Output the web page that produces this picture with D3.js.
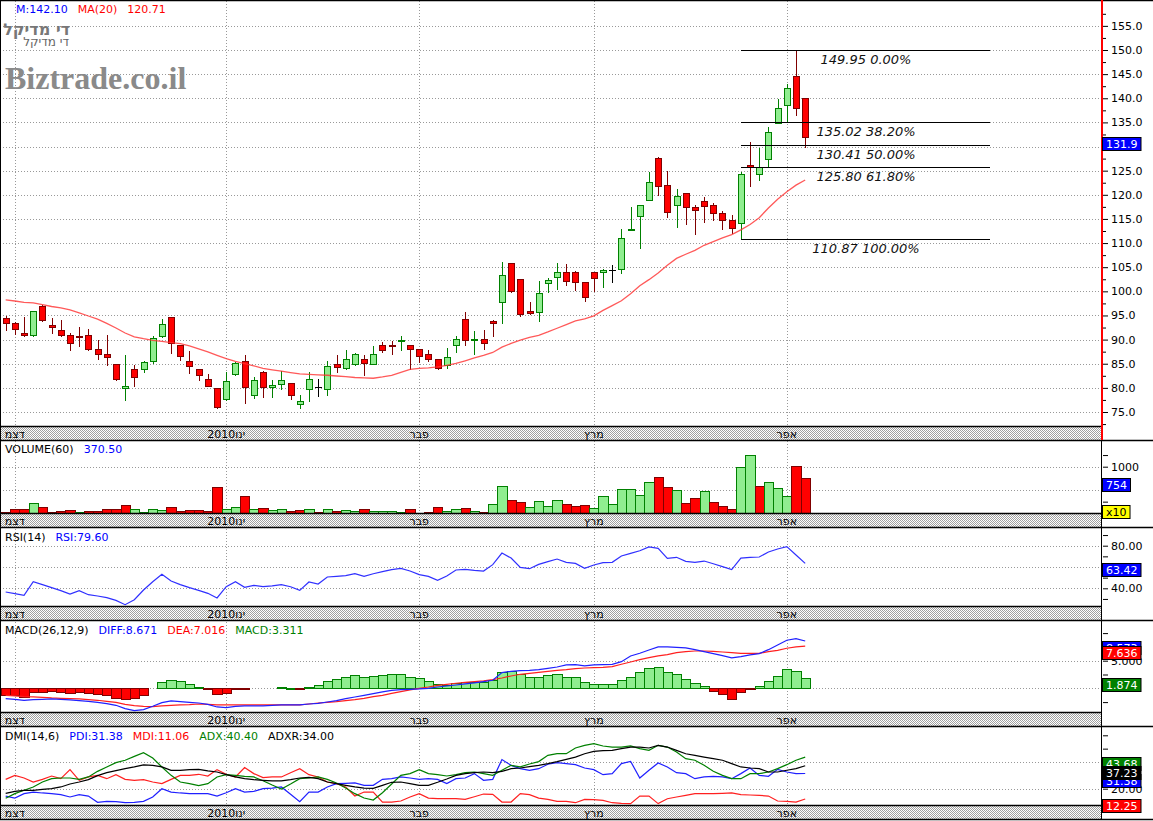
<!DOCTYPE html>
<html><head><meta charset="utf-8">
<script src="https://cdn.jsdelivr.net/npm/d3@7"></script>
<style>body{margin:0;background:#fff;} svg{display:block;} text{font-family:"DejaVu Sans",sans-serif;}</style>
</head><body><svg id="c" width="1153" height="821"></svg>
<script>
// ---------------- DATA ----------------
const openP = [94.41,93.37,91.30,90.89,96.97,93.03,91.99,90.96,90.68,90.89,
 87.99,87.02,84.95,79.98,83.84,83.98,85.57,90.68,94.62,88.89,
 85.57,83.84,81.84,79.91,77.77,82.81,85.57,78.46,83.29,80.11,
 80.74,80.94,76.59,79.84,80.19,79.70,84.88,84.05,84.88,85.92,
 85.02,88.82,88.85,89.84,88.82,87.99,86.95,85.92,84.81,88.82,
 94.21,90.04,90.06,93.86,97.73,105.81,102.49,95.93,95.66,101.66,
 102.91,103.94,103.94,101.87,103.94,103.94,104.50,104.70,112.95,115.54,
 118.85,127.62,121.96,117.82,120.30,117.40,118.65,117.95,116.16,114.71,
 114.23,126.10,124.24,127.35,134.80,138.53,144.61,139.98];
const highP = [94.89,93.6,94.62,96.0,97.17,94.41,94.06,91.44,92.68,92.13,
 89.92,90.96,85.0,86.81,84.74,85.64,90.75,94.27,94.7,88.95,
 87.64,83.9,82.88,80.0,83.22,85.43,86.81,82.19,83.4,81.63,
 83.50,81.0,78.53,83.29,81.91,85.57,86.75,87.85,87.16,86.75,
 88.61,89.51,89.65,90.75,88.9,88.0,87.85,86.0,88.27,90.75,
 95.72,91.79,92.0,94.07,106.01,105.9,102.5,97.73,102.22,102.84,
 105.81,105.60,104.15,101.9,104.0,104.56,105.46,112.91,117.54,117.82,
 124.72,127.90,124.93,121.20,120.30,117.89,119.54,118.23,116.57,115.88,
 124.79,130.94,129.69,134.11,139.92,142.95,149.95,139.98];
const lowP = [92.0,91.10,90.7,90.8,93.93,91.44,90.8,87.85,88.75,87.9,
 85.92,84.74,81.63,77.49,80.46,83.36,85.23,90.6,87.30,85.78,
 83.15,81.63,80.4,75.9,77.49,82.7,76.80,77.84,78.18,78.04,
 79.84,77.77,75.76,77.35,78.39,78.60,83.29,84.0,84.74,82.74,
 84.88,87.51,87.09,87.92,84.0,85.30,85.57,83.85,84.12,87.37,
 88.89,86.95,87.99,90.82,93.52,99.94,94.97,95.24,93.93,99.87,
 100.56,101.25,100.35,98.07,100.14,100.97,101.94,103.87,112.91,109.05,
 118.85,119.96,115.47,113.40,114.02,111.95,114.43,114.85,112.84,112.01,
 110.87,121.89,123.06,125.76,134.80,135.15,136.46,129.97];
const closeP = [93.37,92.13,90.89,95.93,94.06,92.55,90.89,89.23,90.47,87.99,
 86.95,86.33,81.84,80.39,82.19,85.36,90.27,93.24,89.23,86.54,
 84.60,82.60,80.46,75.97,81.43,85.16,80.11,81.63,80.11,80.53,
 81.63,78.46,77.28,81.77,80.19,84.54,84.40,85.92,86.95,85.09,
 86.95,87.92,88.80,89.88,87.99,86.68,85.92,84.05,86.33,90.06,
 89.86,90.08,89.37,93.38,103.32,100.14,95.24,95.59,99.59,102.29,
 103.94,102.08,101.87,98.76,102.70,104.36,104.50,111.05,113.0,117.82,
 122.58,121.75,116.37,119.75,117.40,116.78,117.61,116.16,114.71,113.05,
 124.24,125.76,125.69,132.94,137.91,142.06,137.91,131.90];
const ma20 = [98.21,98.0,97.71,97.59,97.26,96.86,96.57,96.14,95.52,94.89,
 94.23,93.36,92.41,91.37,90.57,90.19,89.86,89.63,89.38,89.15,
 88.72,88.06,87.44,86.73,86.05,85.49,85.03,84.56,84.06,83.75,
 83.46,83.15,82.88,82.80,82.71,82.61,82.46,82.32,82.15,82.05,
 81.99,82.26,82.59,83.21,83.85,84.02,84.16,84.35,84.68,85.05,
 85.61,86.19,86.73,87.33,88.45,89.20,89.88,90.48,90.86,91.58,
 92.35,93.11,93.88,94.27,94.92,96.05,97.05,98.04,99.51,101.17,
 102.42,103.80,105.42,106.83,107.68,108.49,109.54,110.31,111.07,111.76,
 112.73,113.85,115.26,117.25,119.09,120.63,122.0,123.07];
const volume = [29,86,86,214,129,29,50,64,29,50,
 50,86,86,171,86,36,86,64,136,50,
 64,64,50,564,86,129,364,86,107,64,
 86,50,64,93,29,100,50,64,50,93,
 50,50,50,36,93,14,29,136,50,93,
 121,50,29,200,585,286,243,136,264,150,
 286,207,157,179,114,371,200,514,514,386,
 671,778,564,493,221,328,478,243,157,93,
 992,1250,578,664,536,364,1007,754];
const rsi = [36.5,35.0,33.4,46.2,43.4,40.6,37.8,34.6,37.8,34.0,
 32.8,31.2,28.7,24.6,29.3,38.4,46.2,53.1,46.9,43.4,
 40.6,38.1,35.3,30.9,41.5,46.2,40.9,42.8,41.5,42.2,
 43.4,41.5,38.1,45.9,44.0,50.6,51.2,51.9,53.7,51.2,
 53.7,55.6,57.5,58.7,56.2,52.8,51.2,47.5,51.5,57.2,
 57.8,56.9,56.2,62.2,73.1,68.4,59.7,58.4,62.5,65.0,
 67.5,64.4,63.4,58.7,61.9,64.1,64.4,70.3,72.8,75.3,
 78.8,77.5,68.1,69.1,65.3,64.4,65.6,63.1,60.3,57.5,
 68.4,69.1,69.4,74.1,76.9,79.1,71.3,63.42];
const macdHist = [-1.21,-1.21,-1.51,-0.72,-0.60,-0.42,-0.72,-0.91,-0.72,-0.91,
 -1.09,-1.21,-1.81,-2.00,-1.81,-1.21,0,1.09,1.51,1.33,
 0.72,0.30,-0.18,-1.09,-0.79,-0.12,-0.12,0,0,0,
 0.30,0.12,-0.18,0.30,0.54,1.39,1.69,1.99,2.42,2.11,
 2.29,2.42,2.60,2.54,2.11,1.81,1.39,0.72,0.54,0.97,
 1.09,1.09,1.09,1.45,3.02,3.20,2.54,2.05,2.11,2.36,
 2.54,1.99,2.0,1.09,0.85,0.85,0.85,1.45,2.11,2.96,
 3.62,3.80,2.90,2.54,1.63,0.91,0.42,-0.48,-1.09,-1.87,
 -0.72,-0.12,0.36,1.33,2.29,3.44,3.14,1.874];
const diffL = [-1.87,-1.99,-2.17,-2.05,-1.99,-1.93,-1.99,-2.11,-2.23,-2.36,
 -2.54,-2.78,-3.08,-3.68,-4.05,-3.86,-3.26,-2.60,-2.29,-2.42,
 -2.54,-2.66,-2.90,-3.38,-3.50,-3.26,-3.20,-3.20,-3.20,-3.08,
 -3.02,-3.02,-3.02,-2.84,-2.72,-2.48,-2.23,-1.87,-1.57,-1.27,
 -0.97,-0.66,-0.36,-0.24,-0.18,-0.12,0,0.24,0.42,0.60,
 0.79,0.97,1.21,1.45,2.84,3.08,3.20,3.26,3.38,3.62,
 3.86,4.23,4.29,4.05,4.23,4.29,4.35,4.83,5.86,6.34,
 6.94,7.49,7.49,7.43,7.31,7.00,6.64,6.28,5.92,5.50,
 5.74,6.04,6.28,7.00,7.85,8.70,9.00,8.573];
const deaL = [-1.27,-1.39,-1.51,-1.57,-1.63,-1.75,-1.81,-1.87,-1.93,-2.05,
 -2.17,-2.36,-2.54,-2.90,-3.14,-3.26,-3.32,-3.20,-3.08,-3.02,
 -2.96,-2.84,-2.90,-3.02,-3.02,-3.02,-3.02,-3.02,-3.02,-3.02,
 -3.02,-3.02,-3.02,-2.84,-2.66,-2.54,-2.42,-2.23,-2.05,-1.81,
 -1.51,-1.27,-0.91,-0.60,-0.30,0,0.24,0.54,0.72,0.91,
 1.09,1.21,1.33,1.57,1.87,2.23,2.54,2.72,2.90,3.08,
 3.26,3.38,3.56,3.68,3.74,3.80,3.92,4.35,4.77,5.19,
 5.56,5.86,6.10,6.46,6.64,6.76,6.76,6.70,6.58,6.46,
 6.34,6.34,6.34,6.64,6.88,7.25,7.49,7.636];
const pdi = [14.5,13.0,16.3,17.5,16.8,16.3,15.5,13.8,15.5,14.5,
 9.8,10.5,10.3,9.5,9.8,10.5,13.8,20.0,17.5,16.8,
 16.3,16.3,16.3,14.5,17.0,20.0,17.5,18.0,20.0,20.5,
 21.3,15.8,10.3,17.5,17.5,21.3,23.8,24.0,24.3,22.5,
 22.5,27.0,27.5,28.8,28.0,27.0,27.5,27.0,23.8,27.5,
 28.0,31.3,26.3,27.0,41.8,37.5,35.0,33.8,35.0,38.3,
 39.5,38.8,38.0,35.5,34.3,30.5,31.3,38.8,40.5,28.0,
 33.8,39.3,36.3,32.0,31.3,27.5,28.8,29.3,28.8,27.5,
 31.3,35.5,30.0,29.3,34.5,32.5,31.3,31.38];
const mdi = [27.0,30.0,28.0,25.0,27.0,29.5,27.5,34.3,26.3,28.8,
 30.0,27.5,30.5,27.0,26.3,26.8,25.0,23.8,27.0,30.0,
 30.0,30.8,29.5,34.3,30.8,28.8,35.8,31.3,28.3,28.8,
 28.8,32.0,35.0,30.5,28.8,25.0,23.8,21.3,14.5,17.5,
 17.5,10.0,10.0,10.8,13.8,16.3,13.0,12.5,12.5,12.5,
 12.0,14.0,16.0,15.8,10.0,10.0,16.3,15.5,13.0,12.0,
 10.5,10.5,9.5,12.0,11.8,11.3,9.5,9.0,8.8,14.5,
 14.5,8.8,12.5,13.8,15.0,16.3,16.3,16.3,16.5,16.8,
 15.5,15.3,15.0,14.5,10.8,10.5,10.0,12.25];
const adx = [12.8,16.3,18.8,21.3,25.0,27.5,28.0,28.0,27.0,28.8,
 33.0,36.3,39.5,41.3,44.2,47.0,43.0,36.3,30.0,25.0,
 23.8,22.3,23.8,28.8,30.5,30.0,29.3,28.8,26.0,22.8,
 19.8,23.5,27.5,28.0,28.8,27.0,24.3,20.5,16.3,13.0,
 11.5,17.0,23.5,30.0,31.3,34.3,31.3,30.5,29.5,30.5,
 32.0,32.5,31.3,30.0,33.8,37.5,36.3,38.5,40.3,45.0,
 46.2,46.2,50.5,52.5,53.7,52.0,51.2,51.2,52.0,50.0,
 48.7,52.5,51.2,47.5,42.5,41.3,37.5,33.0,30.0,27.5,
 27.5,31.3,31.3,32.5,35.0,38.0,41.3,43.68];
const adxr = [16.5,18.0,18.8,18.8,19.5,20.0,21.3,23.5,25.0,26.8,
 29.8,32.0,33.5,35.0,36.3,37.8,37.5,36.3,33.8,33.8,
 34.3,34.5,33.3,32.5,30.5,28.8,27.5,26.8,26.3,25.8,
 25.8,26.8,28.0,28.5,27.5,25.0,23.8,22.5,21.3,20.5,
 20.3,22.5,24.8,25.0,23.8,22.5,22.5,24.8,27.3,30.0,
 31.3,32.0,32.5,32.0,33.0,35.0,35.5,36.5,37.5,38.8,
 40.3,42.0,43.7,46.2,48.0,48.5,48.7,50.0,51.2,51.2,
 50.5,52.5,51.2,48.7,46.2,45.0,43.7,42.5,41.3,38.8,
 36.3,35.5,35.0,32.5,32.5,33.8,35.0,37.23];
const monthIdx = [1,24,45,64,85];
const monthLabels = ["דצמ","2010ינו","פבר","מרץ","אפר"];
const fibLevels = [149.95,135.02,130.41,125.80,110.87];
const fibPct = ["0.00%","38.20%","50.00%","61.80%","100.00%"];
const fibStartIdx = 80;
const priceTicks = [75,80,85,90,95,100,105,110,115,120,125,130,135,140,145,150,155];
const priceMinor = [72.5,77.5,82.5,87.5,92.5,97.5,102.5,107.5,112.5,117.5,122.5,127.5,132.5,137.5,142.5,147.5,152.5,157.5];
const volTicks = [250,500,750,1000,1250], volLabels=[1000], volGrid=[500,1000];
const rsiTicks = [30,40,50,60,70,80,90], rsiLabels=[40,80], rsiGrid=[40,60,80];
const macdTicks = [-2.5,0,2.5,5,7.5,10], macdLabels=[5], macdGrid=[0,5];
const dmiTicks = [10,20,30,40,50,60], dmiLabels=[20,40], dmiGrid=[20,40];

// ---------------- LAYOUT ----------------
const N = closeP.length;
const svg = d3.select('#c');
const PR = 1101;      // plot right edge
const AX = 1103;      // axis x
const xs = d3.scaleLinear().domain([0, N-1]).range([5.67, 805.2]);
const STEP = (xs(N-1)-xs(0))/(N-1);

const P = {
  main:{top:1,bottom:426,band:[427,440], y:d3.scaleLinear().domain([75,150]).range([412,50])},
  vol:{top:441,bottom:513,band:[514,527], y:d3.scaleLinear().domain([0,1000]).range([513.3,466.7])},
  rsi:{top:529,bottom:606,band:[607,620], y:d3.scaleLinear().domain([40,80]).range([588.3,545.7])},
  macd:{top:622,bottom:712,band:[713,726], y:d3.scaleLinear().domain([0,5]).range([688.3,660.7])},
  dmi:{top:728,bottom:805,band:[806,819], y:d3.scaleLinear().domain([20,40]).range([788.7,762])}
};

const defs = svg.append('defs');
const pat = defs.append('pattern').attr('id','hatch').attr('width',2).attr('height',2).attr('patternUnits','userSpaceOnUse');
pat.append('rect').attr('width',2).attr('height',2).attr('fill','#ffffff');
pat.append('rect').attr('width',1).attr('height',1).attr('fill','#a0a0a0');
pat.append('rect').attr('x',1).attr('y',1).attr('width',1).attr('height',1).attr('fill','#a0a0a0');
Object.entries(P).forEach(([k,p])=>{
  defs.append('clipPath').attr('id','clip-'+k).append('rect')
    .attr('x',0).attr('y',p.top).attr('width',PR).attr('height',p.bottom-p.top);
});

svg.append('rect').attr('width',1153).attr('height',821).attr('fill','#fff');

const UP_F='#90ee90', UP_S='#008000', DN_F='#ff0000', DN_S='#800000';

// grids, bands, frames
Object.entries(P).forEach(([k,p])=>{
  svg.append('rect').attr('x',0).attr('y',p.band[0]).attr('width',PR).attr('height',p.band[1]-p.band[0]).attr('fill','url(#hatch)');
  monthIdx.forEach(i=>{
    const x=Math.round(xs(i))+0.5;
    svg.append('line').attr('x1',x).attr('x2',x).attr('y1',p.top).attr('y2',p.bottom)
      .attr('stroke','#999').attr('stroke-dasharray','1,2').attr('shape-rendering','crispEdges');
  });
  monthIdx.forEach((i,j)=>{
    svg.append('text').attr('x',xs(i)).attr('y',p.band[0]+10.5).attr('text-anchor','middle')
      .attr('font-size',11).attr('fill','#000').text(monthLabels[j]);
  });
});

function hgrid(p, vals){
  vals.forEach(v=>{
    const y=Math.round(p.y(v))+0.5;
    svg.append('line').attr('x1',0).attr('x2',PR).attr('y1',y).attr('y2',y)
      .attr('stroke','#999').attr('stroke-dasharray','1,2').attr('shape-rendering','crispEdges');
  });
}
hgrid(P.main, priceTicks);
hgrid(P.vol, volGrid);
hgrid(P.rsi, rsiGrid);
hgrid(P.macd, macdGrid);
hgrid(P.dmi, dmiGrid);

// watermark & title
svg.append('text').attr('x',5).attr('y',89).attr('font-weight','bold')
  .attr('font-size',32).attr('fill','#8a8a8a').style('font-family','"Liberation Serif",serif').text('Biztrade.co.il');
svg.append('text').attr('x',70).attr('y',35).attr('text-anchor','end').attr('font-weight','bold')
  .attr('font-size',16).attr('fill','#777').text('די מדיקל');
svg.append('text').attr('x',69).attr('y',46).attr('text-anchor','end')
  .attr('font-size',12).attr('fill','#666').text('די מדיקל');

// ---------- main: candles ----------
const gM = svg.append('g').attr('clip-path','url(#clip-main)');
const yP = P.main.y;
d3.range(N).forEach(i=>{
  const o=openP[i], c=closeP[i], h=highP[i], l=lowP[i];
  const xc=Math.round(xs(i));
  const dir = c>o?1:(c<o?-1:0);
  const s = dir>0?UP_S:(dir<0?DN_S:'#000');
  gM.append('line').attr('x1',xc+0.5).attr('x2',xc+0.5).attr('y1',Math.round(yP(h))).attr('y2',Math.round(yP(l))+1)
    .attr('stroke',s).attr('stroke-width',1).attr('shape-rendering','crispEdges');
  if(dir===0){
    const y=Math.round(yP(o))+0.5;
    gM.append('line').attr('x1',xc-3).attr('x2',xc+4).attr('y1',y).attr('y2',y).attr('stroke',s).attr('shape-rendering','crispEdges');
  } else {
    const t=Math.round(yP(Math.max(o,c)))+0.5, b=Math.round(yP(Math.min(o,c)))+0.5;
    gM.append('rect').attr('x',xc-2.5).attr('y',t).attr('width',6).attr('height',Math.max(b-t,1))
      .attr('fill',dir>0?UP_F:DN_F).attr('stroke',s).attr('stroke-width',1).attr('shape-rendering','crispEdges');
  }
});
gM.append('path').datum(ma20).attr('fill','none').attr('stroke','#ff3030').attr('stroke-opacity',0.8).attr('stroke-width',1.3)
  .attr('d',d3.line().x((d,i)=>xs(i)).y(d=>yP(d)));
fibLevels.forEach((v,j)=>{
  const y=Math.round(yP(v))+0.5, x1=Math.round(xs(fibStartIdx)), x2=x1+249;
  svg.append('line').attr('x1',x1).attr('x2',x2).attr('y1',y).attr('y2',y).attr('stroke','#000').attr('shape-rendering','crispEdges');
  svg.append('text').attr('x',x1+125).attr('y',y+13).attr('text-anchor','middle').attr('font-size',13)
    .attr('font-style','italic').attr('fill','#111').text(v.toFixed(2)+' '+fibPct[j]);
});

// ---------- volume ----------
const gV = svg.append('g').attr('clip-path','url(#clip-vol)');
volume.forEach((v,i)=>{
  const up = i>0 && closeP[i]>closeP[i-1];
  const x0=Math.round(xs(i)-STEP/2)+0.5, x1=Math.round(xs(i)+STEP/2)+0.5;
  const t=Math.round(P.vol.y(v))+0.5, b=Math.round(P.vol.y(0))+0.5;
  gV.append('rect').attr('x',x0).attr('y',t).attr('width',x1-x0).attr('height',Math.max(b-t,1))
    .attr('fill',up?UP_F:DN_F).attr('stroke',up?UP_S:DN_S).attr('shape-rendering','crispEdges');
});

// ---------- RSI ----------
svg.append('g').attr('clip-path','url(#clip-rsi)').append('path').datum(rsi).attr('fill','none')
  .attr('stroke','#3030ff').attr('stroke-width',1.2).attr('d',d3.line().x((d,i)=>xs(i)).y(d=>P.rsi.y(d)));

// ---------- MACD ----------
const gC = svg.append('g').attr('clip-path','url(#clip-macd)');
macdHist.forEach((v,i)=>{
  if(v===0) return;
  const x0=Math.round(xs(i)-STEP/2)+0.5, x1=Math.round(xs(i)+STEP/2)+0.5;
  const y0=Math.round(P.macd.y(0))+0.5, y1=Math.round(P.macd.y(v))+0.5;
  const t=Math.min(y0,y1), h=Math.max(Math.abs(y1-y0),1);
  gC.append('rect').attr('x',x0).attr('y',t).attr('width',x1-x0).attr('height',h)
    .attr('fill',v>0?UP_F:DN_F).attr('stroke',v>0?UP_S:DN_S).attr('shape-rendering','crispEdges');
});
gC.append('path').datum(deaL).attr('fill','none').attr('stroke','#ff2020').attr('stroke-width',1.2)
  .attr('d',d3.line().x((d,i)=>xs(i)).y(d=>P.macd.y(d)));
gC.append('path').datum(diffL).attr('fill','none').attr('stroke','#2020ff').attr('stroke-width',1.2)
  .attr('d',d3.line().x((d,i)=>xs(i)).y(d=>P.macd.y(d)));

// ---------- DMI ----------
const gD = svg.append('g').attr('clip-path','url(#clip-dmi)');
[[mdi,'#ff2020'],[pdi,'#2020ff'],[adx,'#008000'],[adxr,'#000000']].forEach(([arr,col])=>{
  gD.append('path').datum(arr).attr('fill','none').attr('stroke',col).attr('stroke-width',1.2)
    .attr('d',d3.line().x((d,i)=>xs(i)).y(d=>P.dmi.y(d)));
});

// ---------- frames ----------
function hline(y,x1,x2,w,c){ svg.append('line').attr('x1',x1).attr('x2',x2).attr('y1',y).attr('y2',y).attr('stroke',c||'#000').attr('stroke-width',w||1); }
hline(0.5,0,1153,1.5);
Object.values(P).forEach(p=>{
  hline(p.bottom+0.5,0,PR,1.5);
  hline(p.band[1]+0.5,0,1153,1.5);
});
svg.append('line').attr('x1',0.5).attr('x2',0.5).attr('y1',0).attr('y2',820).attr('stroke','#000');
svg.append('line').attr('x1',PR+1).attr('x2',PR+1).attr('y1',0).attr('y2',P.main.band[1]).attr('stroke','#ff0000').attr('stroke-width',2);
['vol','rsi','macd','dmi'].forEach(k=>{
  const p=P[k];
  svg.append('line').attr('x1',PR+0.5).attr('x2',PR+0.5).attr('y1',p.top-1).attr('y2',p.band[1]).attr('stroke','#000');
});

// ---------- value boxes (positions computed first) ----------
const boxes = [
  [P.main.y(closeP[N-1]), closeP[N-1].toFixed(1), '#0000ff', '#fff'],
  [P.vol.y(volume[N-1]), String(volume[N-1]), '#0000ff', '#fff'],
  [505, 'x10', '#ffff00', '#000'],
  [P.rsi.y(rsi[N-1]), rsi[N-1].toFixed(2), '#0000ff', '#fff'],
  [P.macd.y(diffL[N-1]), diffL[N-1].toFixed(3), '#0000ff', '#fff'],
  [P.macd.y(deaL[N-1]), deaL[N-1].toFixed(3), '#ff0000', '#fff'],
  [P.macd.y(macdHist[N-1]), macdHist[N-1].toFixed(3), '#008000', '#fff'],
  [P.dmi.y(adx[N-1]), adx[N-1].toFixed(2), '#008000', '#fff'],
  [P.dmi.y(pdi[N-1]), pdi[N-1].toFixed(2), '#0000ff', '#fff'],
  [P.dmi.y(adxr[N-1]), adxr[N-1].toFixed(2), '#000000', '#fff'],
  [P.dmi.y(mdi[N-1]), mdi[N-1].toFixed(2), '#ff0000', '#fff']
];
function covered(y){ return boxes.some(b=>y>=Math.round(b[0])-1 && y<=Math.round(b[0])+13); }

// ---------- right axes ----------
function rAxis(p, ticks, labels, fmt, minor){
  const g=svg.append('g').attr('transform',`translate(${AX},0)`);
  g.call(d3.axisRight(p.y).tickValues(ticks).tickSize(5).tickPadding(3)
    .tickFormat(d=>(labels.includes(d) && !covered(p.y(d)))?fmt(d):''));
  g.select('.domain').remove();
  g.selectAll('text').attr('font-size',11).attr('font-family','"DejaVu Sans",sans-serif').attr('fill','#000');
  if(minor){
    const g2=svg.append('g').attr('transform',`translate(${AX},0)`);
    g2.call(d3.axisRight(p.y).tickValues(minor).tickSize(3).tickFormat(''));
    g2.select('.domain').remove();
  }
}
rAxis(P.main, priceTicks, priceTicks, d3.format('.1f'), priceMinor);
rAxis(P.vol, volTicks, volLabels, d3.format('d'));
rAxis(P.rsi, rsiTicks, rsiLabels, d3.format('.2f'));
rAxis(P.macd, macdTicks, macdLabels, d3.format('.3f'));
rAxis(P.dmi, dmiTicks, dmiLabels, d3.format('.2f'));

function vbox(y, txt, fill, tc){
  const g=svg.append('g');
  const r=g.append('rect');
  const t=g.append('text').attr('x',AX+3).attr('y',Math.round(y)+11).attr('font-size',11).attr('fill',tc).text(txt);
  const w=t.node().getComputedTextLength();
  r.attr('x',PR+1.5).attr('y',Math.round(y)+0.5).attr('width',w+7).attr('height',13).attr('fill',fill).attr('stroke','#000');
}
boxes.forEach(b=>vbox(...b));

// ---------- headers ----------
function header(x, y, items){
  items.forEach(([t,c])=>{
    const el=svg.append('text').attr('x',x).attr('y',y).attr('fill',c).attr('font-size',11).text(t);
    x += el.node().getComputedTextLength() + 10;
  });
}
header(16, 13, [['M:142.10','#0000ff'],['MA(20)','#ff0000'],['120.71','#ff0000']]);
header(5, P.vol.top+12, [['VOLUME(60)','#000'],['370.50','#0000ff']]);
header(5, P.rsi.top+12, [['RSI(14)','#000'],['RSI:79.60','#0000ff']]);
header(5, P.macd.top+12, [['MACD(26,12,9)','#000'],['DIFF:8.671','#0000ff'],['DEA:7.016','#ff0000'],['MACD:3.311','#008000']]);
header(5, P.dmi.top+12, [['DMI(14,6)','#000'],['PDI:31.38','#0000ff'],['MDI:11.06','#ff0000'],['ADX:40.40','#008000'],['ADXR:34.00','#000']]);
</script></body></html>
